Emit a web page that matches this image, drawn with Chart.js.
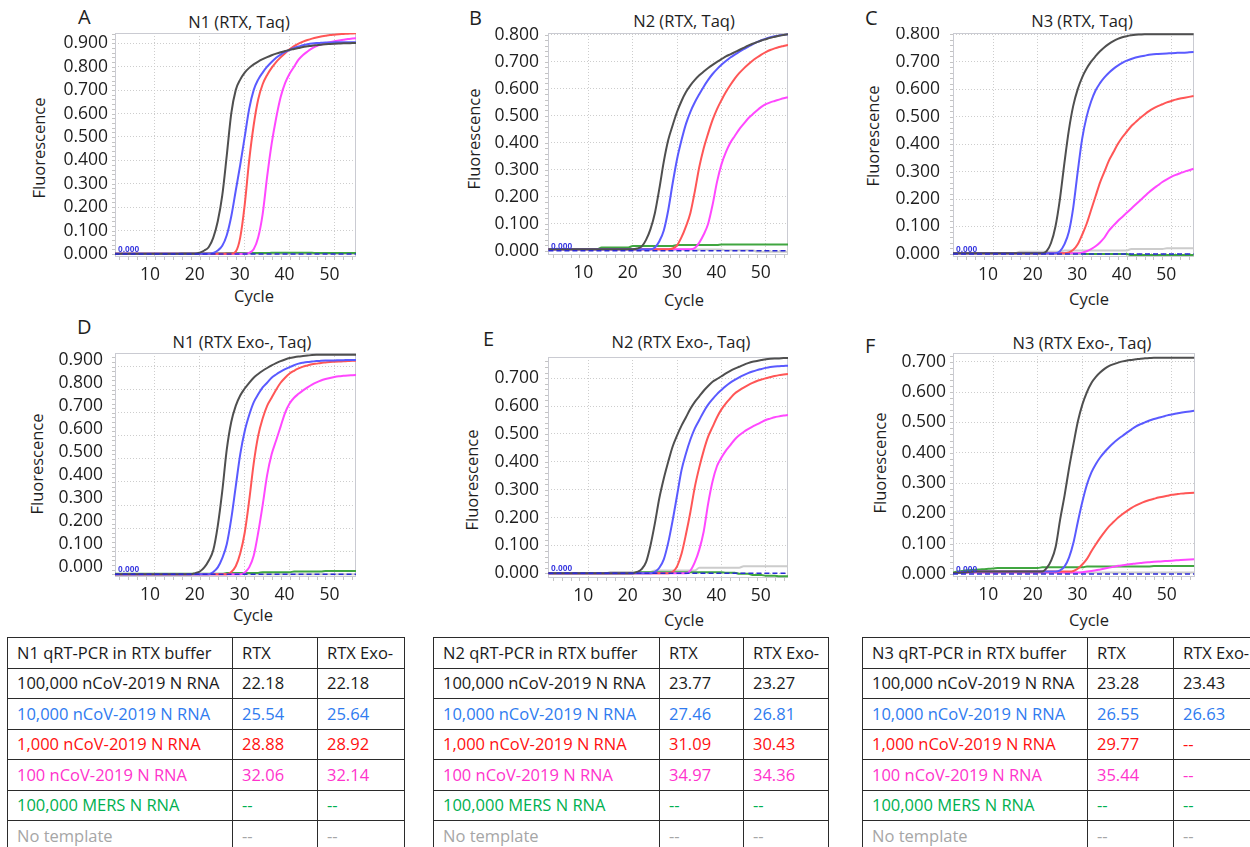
<!DOCTYPE html>
<html><head><meta charset="utf-8">
<script src="https://cdn.jsdelivr.net/npm/chart.js@4.4.0/dist/chart.umd.min.js"></script>
<style>
html,body{margin:0;padding:0;background:#fff;}
body{width:1250px;height:847px;overflow:hidden;position:relative;font-family:"Open Sans",sans-serif;color:#1e1e1e;}
.box{position:absolute;}
.lt{position:absolute;font-size:20px;line-height:20px;}
.ttl{position:absolute;width:240px;text-align:center;font-size:16.5px;line-height:16px;white-space:nowrap;}
.yt{position:absolute;width:200px;height:20px;line-height:20px;text-align:center;font-size:16.5px;transform:rotate(-90deg);white-space:nowrap;}
.xt{position:absolute;width:100px;text-align:center;font-size:16.5px;line-height:16px;}
table{position:absolute;border-collapse:collapse;table-layout:fixed;font-size:16.5px;}
td{border:1px solid #2b2b2b;height:30.5px;box-sizing:border-box;padding:0 0 0 9px;white-space:nowrap;overflow:hidden;line-height:20px;}
</style></head>
<body>
<div class="lt" style="left:78px;top:6.5px">A</div>
<div class="lt" style="left:469px;top:7.5px">B</div>
<div class="lt" style="left:865px;top:7.5px">C</div>
<div class="lt" style="left:77px;top:316.5px">D</div>
<div class="lt" style="left:483px;top:328.5px">E</div>
<div class="lt" style="left:865px;top:335.5px">F</div>

<div class="ttl" style="left:119px;top:14px">N1 (RTX, Taq)</div>
<div class="ttl" style="left:564px;top:13px">N2 (RTX, Taq)</div>
<div class="ttl" style="left:962px;top:13px">N3 (RTX, Taq)</div>
<div class="ttl" style="left:122px;top:334px">N1 (RTX Exo-, Taq)</div>
<div class="ttl" style="left:561px;top:334px">N2 (RTX Exo-, Taq)</div>
<div class="ttl" style="left:962px;top:335px">N3 (RTX Exo-, Taq)</div>

<div class="yt" style="left:-61.5px;top:138px">Fluorescence</div>
<div class="yt" style="left:373.5px;top:129px">Fluorescence</div>
<div class="yt" style="left:773px;top:125.5px">Fluorescence</div>
<div class="yt" style="left:-63px;top:454px">Fluorescence</div>
<div class="yt" style="left:371.5px;top:469.5px">Fluorescence</div>
<div class="yt" style="left:779.5px;top:453px">Fluorescence</div>

<div class="xt" style="left:204px;top:288px">Cycle</div>
<div class="xt" style="left:634px;top:291.5px">Cycle</div>
<div class="xt" style="left:1039px;top:291px">Cycle</div>
<div class="xt" style="left:203px;top:607px">Cycle</div>
<div class="xt" style="left:634px;top:612px">Cycle</div>
<div class="xt" style="left:1039px;top:612px">Cycle</div>

<div class="box" style="left:35px;top:27px;width:327px;height:262px"><canvas id="cA"></canvas></div>
<div class="box" style="left:468px;top:27px;width:326px;height:260px"><canvas id="cB"></canvas></div>
<div class="box" style="left:873px;top:27px;width:327px;height:262px"><canvas id="cC"></canvas></div>
<div class="box" style="left:35px;top:347px;width:327px;height:262px"><canvas id="cD"></canvas></div>
<div class="box" style="left:468px;top:351px;width:326px;height:259px"><canvas id="cE"></canvas></div>
<div class="box" style="left:873px;top:347px;width:328px;height:262px"><canvas id="cF"></canvas></div>

<table id="t1" style="left:7px;top:637px;width:397px"><colgroup><col style="width:225px"><col style="width:85px"><col style="width:87px"></colgroup><tbody></tbody></table>
<table id="t2" style="left:433px;top:637px;width:395px"><colgroup><col style="width:226px"><col style="width:84px"><col style="width:85px"></colgroup><tbody></tbody></table>
<table id="t3" style="left:862px;top:637px;width:398px"><colgroup><col style="width:225px"><col style="width:86px"><col style="width:87px"></colgroup><tbody></tbody></table>

<script>
// ---------- DATA ----------
const cycles = [1,2,3,4,5,6,7,8,9,10,11,12,13,14,15,16,17,18,19,20,21,22,23,24,25,26,27,28,29,30,
 31,32,33,34,35,36,37,38,39,40,41,42,43,44,45,46,47,48,49,50,51,52,53,54,55];
const xTicks = [10,20,30,40,50];
const xTickLabels = ['10','20','30','40','50'];
const yTicks09 = [0,0.1,0.2,0.3,0.4,0.5,0.6,0.7,0.8,0.9];
const yTickLabels09 = ['0.000','0.100','0.200','0.300','0.400','0.500','0.600','0.700','0.800','0.900'];
const yTicks08 = [0,0.1,0.2,0.3,0.4,0.5,0.6,0.7,0.8];
const yTickLabels08 = ['0.000','0.100','0.200','0.300','0.400','0.500','0.600','0.700','0.800'];
const yTicks07 = [0,0.1,0.2,0.3,0.4,0.5,0.6,0.7];
const yTickLabels07 = ['0.000','0.100','0.200','0.300','0.400','0.500','0.600','0.700'];
const yMinorStep = 0.02;
const xMinorStep = 2;
const thresholdValue = 0.000;
const seriesNames = ['100,000 nCoV-2019 N RNA','10,000 nCoV-2019 N RNA','1,000 nCoV-2019 N RNA','100 nCoV-2019 N RNA','100,000 MERS N RNA','No template'];

// Panel A: N1 (RTX, Taq)
const A_black = [0.001,0.001,0.001,0.001,0.001,0.001,0.001,0.001,0.001,0.001,
 0.001,0.001,0.001,0.001,0.001,0.001,0.001,0.001,0.001,0.006,
 0.015,0.03,0.07,0.14,0.25,0.42,0.60,0.70,0.745,0.775,
 0.795,0.81,0.822,0.832,0.841,0.849,0.856,0.862,0.867,0.872,
 0.876,0.88,0.884,0.887,0.89,0.892,0.894,0.896,0.897,0.898,
 0.899,0.9,0.9,0.901,0.901];
const A_blue = [0.001,0.001,0.001,0.001,0.001,0.001,0.001,0.001,0.001,0.001,
 0.001,0.001,0.001,0.001,0.001,0.001,0.001,0.001,0.001,0.001,
 0.001,0.001,0.005,0.015,0.035,0.08,0.16,0.27,0.38,0.50,
 0.62,0.70,0.745,0.775,0.80,0.82,0.838,0.852,0.863,0.872,
 0.88,0.886,0.892,0.896,0.899,0.901,0.902,0.903,0.903,0.904,
 0.904,0.905,0.905,0.905,0.905];
const A_red = [0.001,0.001,0.001,0.001,0.001,0.001,0.001,0.001,0.001,0.001,
 0.001,0.001,0.001,0.001,0.001,0.001,0.001,0.001,0.001,0.001,
 0.001,0.001,0.001,0.001,0.001,0.001,0.001,0.01,0.07,0.21,
 0.40,0.55,0.66,0.725,0.765,0.795,0.82,0.84,0.858,0.874,
 0.888,0.899,0.907,0.914,0.92,0.925,0.929,0.932,0.935,0.937,
 0.939,0.94,0.941,0.942,0.943];
const A_magenta = [0.001,0.001,0.001,0.001,0.001,0.001,0.001,0.001,0.001,0.001,
 0.001,0.001,0.001,0.001,0.001,0.001,0.001,0.001,0.001,0.001,
 0.001,0.001,0.001,0.001,0.001,0.001,0.001,0.001,0.001,0.001,
 0.005,0.02,0.07,0.17,0.33,0.47,0.58,0.67,0.73,0.77,
 0.80,0.83,0.85,0.865,0.878,0.888,0.895,0.90,0.905,0.909,
 0.912,0.915,0.918,0.92,0.922];
const A_green = [0.001,0.001,0.001,0.001,0.001,0.001,0.001,0.001,0.001,0.001,
 0.001,0.001,0.001,0.001,0.001,0.003,0.003,0.003,0.003,0.003,
 0.003,0.003,0.003,0.003,0.003,0.004,0.004,0.004,0.004,0.004,
 0.004,0.004,0.004,0.004,0.004,0.005,0.005,0.005,0.005,0.005,
 0.005,0.005,0.005,0.005,0.005,0.004,0.004,0.004,0.004,0.004,
 0.004,0.004,0.004,0.004,0.004];
const A_gray = [0,0,0,0,0,0,0,0,0,0, 0,0,0,0,0,0,0,0,0,0, 0,0,0,0,0,0,0,0,0,0,
 0,0,0,0,0,0,0,0,0,0, 0,0,0,0,0,0,0,0,0,0, 0,0,0,0,0];

// Panel B: N2 (RTX, Taq)
const B_black = [0.005,0.005,0.005,0.005,0.005,0.005,0.005,0.005,0.005,0.005,
 0.005,0.005,0.005,0.005,0.005,0.005,0.005,0.005,0.005,0.005,
 0.008,0.015,0.04,0.08,0.14,0.23,0.33,0.41,0.465,0.515,
 0.555,0.588,0.613,0.633,0.65,0.664,0.677,0.689,0.70,0.71,
 0.72,0.728,0.736,0.744,0.752,0.76,0.767,0.773,0.779,0.784,
 0.789,0.793,0.797,0.80,0.802];
const B_blue = [0.005,0.005,0.005,0.005,0.005,0.005,0.005,0.005,0.005,0.005,
 0.005,0.005,0.005,0.005,0.005,0.005,0.005,0.005,0.005,0.005,
 0.005,0.005,0.005,0.005,0.012,0.035,0.075,0.15,0.25,0.34,
 0.41,0.47,0.515,0.55,0.58,0.608,0.633,0.655,0.673,0.689,
 0.703,0.716,0.727,0.737,0.747,0.756,0.765,0.773,0.78,0.786,
 0.791,0.795,0.798,0.80,0.802];
const B_red = [0.005,0.005,0.005,0.005,0.005,0.005,0.005,0.005,0.005,0.005,
 0.005,0.005,0.005,0.005,0.005,0.005,0.005,0.005,0.005,0.005,
 0.005,0.005,0.005,0.005,0.005,0.005,0.005,0.005,0.008,0.02,
 0.05,0.09,0.14,0.22,0.31,0.38,0.435,0.485,0.525,0.558,
 0.588,0.614,0.638,0.658,0.675,0.69,0.704,0.716,0.727,0.736,
 0.744,0.75,0.755,0.759,0.763];
const B_magenta = [0.005,0.005,0.005,0.005,0.005,0.005,0.005,0.005,0.005,0.005,
 0.005,0.005,0.005,0.005,0.005,0.005,0.005,0.005,0.005,0.005,
 0.005,0.005,0.005,0.005,0.005,0.005,0.005,0.005,0.005,0.005,
 0.005,0.005,0.005,0.01,0.03,0.06,0.10,0.17,0.255,0.32,
 0.365,0.40,0.425,0.45,0.47,0.49,0.505,0.52,0.533,0.543,
 0.55,0.555,0.56,0.565,0.569];
const B_green = [0.005,0.005,0.005,0.005,0.005,0.005,0.005,0.005,0.005,0.005,
 0.005,0.005,0.012,0.012,0.012,0.012,0.012,0.012,0.012,0.017,
 0.017,0.017,0.017,0.017,0.017,0.017,0.017,0.017,0.017,0.021,
 0.021,0.021,0.021,0.021,0.021,0.021,0.021,0.021,0.021,0.023,
 0.023,0.023,0.023,0.023,0.023,0.023,0.023,0.023,0.023,0.023,
 0.023,0.023,0.023,0.023,0.023];
const B_gray = [0.004,0.004,0.004,0.004,0.004,0.004,0.004,0.004,0.004,0.004,
 0.004,0.004,0.004,0.004,0.004,0.004,0.004,0.004,0.004,0.004,
 0.004,0.004,0.004,0.004,0.004,0.004,0.004,0.004,0.004,0.004,
 0.004,0.004,0.004,0.004,0.004,0.004,0.004,0.004,0.004,0.004,
 0.002,0.002,0.002,0.002,0.002,0.002,0.002,-0.004,-0.004,-0.004,
 -0.004,-0.004,-0.004,-0.004,-0.004];

// Panel C: N3 (RTX, Taq)
const C_black = [0.003,0.003,0.003,0.003,0.003,0.003,0.003,0.003,0.003,0.003,
 0.003,0.003,0.003,0.003,0.003,0.003,0.003,0.003,0.003,0.003,
 0.003,0.01,0.04,0.10,0.20,0.33,0.45,0.54,0.60,0.643,
 0.675,0.70,0.72,0.738,0.753,0.765,0.775,0.783,0.789,0.793,
 0.796,0.798,0.799,0.80,0.80,0.80,0.80,0.80,0.80,0.80,
 0.80,0.80,0.80,0.80,0.80];
const C_blue = [0.003,0.003,0.003,0.003,0.003,0.003,0.003,0.003,0.003,0.003,
 0.003,0.003,0.003,0.003,0.003,0.003,0.003,0.003,0.003,0.003,
 0.003,0.003,0.003,0.003,0.01,0.035,0.08,0.17,0.30,0.42,
 0.50,0.555,0.595,0.622,0.643,0.66,0.674,0.686,0.696,0.704,
 0.71,0.715,0.719,0.722,0.725,0.727,0.728,0.729,0.73,0.731,
 0.732,0.733,0.733,0.734,0.735];
const C_red = [0.003,0.003,0.003,0.003,0.003,0.003,0.003,0.003,0.003,0.003,
 0.003,0.003,0.003,0.003,0.003,0.003,0.003,0.003,0.003,0.003,
 0.003,0.003,0.003,0.003,0.003,0.003,0.006,0.015,0.035,0.07,
 0.11,0.16,0.21,0.26,0.30,0.34,0.37,0.40,0.425,0.445,
 0.465,0.48,0.495,0.508,0.52,0.53,0.538,0.545,0.552,0.557,
 0.562,0.566,0.569,0.572,0.575];
const C_magenta = [0.003,0.003,0.003,0.003,0.003,0.003,0.003,0.003,0.003,0.003,
 0.003,0.003,0.003,0.003,0.003,0.003,0.003,0.003,0.003,0.003,
 0.003,0.003,0.003,0.003,0.003,0.003,0.003,0.003,0.003,0.005,
 0.01,0.018,0.028,0.042,0.06,0.085,0.103,0.12,0.135,0.15,
 0.165,0.18,0.195,0.21,0.225,0.238,0.25,0.262,0.272,0.281,
 0.288,0.294,0.30,0.305,0.31];
const C_green = [0.002,0.002,0.002,0.002,0.002,0.002,0.002,0.002,0.002,0.002,
 0.002,0.002,0.002,0.002,0.002,0.002,0.002,0.002,0.002,0.002,
 0.002,0.002,0.002,0.002,0.002,0.002,0.002,0.002,0.002,0.002,
 0,0,0,0,0,0,0,0,0,0,
 -0.004,-0.004,-0.004,-0.004,-0.004,-0.004,-0.004,-0.004,-0.004,-0.004,
 -0.004,-0.004,-0.004,-0.004,-0.004];
const C_gray = [0.003,0.003,0.003,0.003,0.003,0.003,0.003,0.003,0.003,0.003,
 0.003,0.003,0.003,0.003,0.003,0.008,0.008,0.008,0.008,0.008,
 0.008,0.008,0.008,0.008,0.008,0.013,0.013,0.013,0.013,0.013,
 0.013,0.013,0.013,0.013,0.013,0.013,0.013,0.013,0.013,0.013,
 0.018,0.018,0.018,0.018,0.018,0.018,0.018,0.018,0.021,0.021,
 0.021,0.021,0.021,0.021,0.021];

// Panel D: N1 (RTX Exo-, Taq)
const D_black = [0,0,0,0,0,0,0,0,0,0,
 0,0,0,0,0,0,0,0,0.005,0.012,
 0.03,0.06,0.105,0.21,0.36,0.54,0.66,0.73,0.775,0.805,
 0.83,0.852,0.868,0.882,0.894,0.905,0.915,0.924,0.931,0.937,
 0.941,0.944,0.946,0.948,0.95,0.951,0.951,0.951,0.951,0.951,
 0.951,0.951,0.951,0.951,0.951];
const D_blue = [0,0,0,0,0,0,0,0,0,0,
 0,0,0,0,0,0,0,0,0,0,
 0,0,0.01,0.03,0.07,0.13,0.24,0.38,0.52,0.62,
 0.69,0.745,0.78,0.81,0.83,0.852,0.866,0.878,0.889,0.898,
 0.906,0.913,0.917,0.92,0.922,0.924,0.925,0.926,0.927,0.927,
 0.928,0.928,0.929,0.929,0.929];
const D_red = [0,0,0,0,0,0,0,0,0,0,
 0,0,0,0,0,0,0,0,0,0,
 0,0,0,0,0,0,0.01,0.035,0.09,0.18,
 0.32,0.48,0.60,0.675,0.73,0.765,0.80,0.83,0.852,0.87,
 0.882,0.892,0.90,0.905,0.91,0.913,0.916,0.918,0.92,0.921,
 0.922,0.923,0.924,0.925,0.925];
const D_magenta = [0,0,0,0,0,0,0,0,0,0,
 0,0,0,0,0,0,0,0,0,0,
 0,0,0,0,0,0,0,0,0,0.008,
 0.03,0.08,0.18,0.30,0.43,0.52,0.58,0.64,0.70,0.74,
 0.765,0.782,0.797,0.81,0.822,0.832,0.84,0.846,0.851,0.855,
 0.858,0.86,0.862,0.863,0.864];
const D_green = [0.002,0.002,0.002,0.002,0.002,0.002,0.002,0.002,0.002,0.002,
 0.002,0.002,0.002,0.002,0.002,0.002,0.002,0.002,0.002,0.002,
 0.002,0.002,0.002,0.002,0.002,0.006,0.006,0.006,0.006,0.006,
 0.006,0.006,0.006,0.009,0.009,0.009,0.009,0.009,0.009,0.009,
 0.012,0.012,0.012,0.012,0.012,0.012,0.012,0.014,0.014,0.014,
 0.014,0.014,0.014,0.014,0.014];
const D_gray = [0,0,0,0,0,0,0,0,0,0, 0,0,0,0,0,0,0,0,0,0, 0,0,0,0,0,0,0,0,0,0,
 0,0,0,0,0,0,0,0,0,0, 0,0,0,0,0,0,0,0,0,0, 0,0,0,0,0];

// Panel E: N2 (RTX Exo-, Taq)
const E_black = [0,0,0,0,0,0,0,0,0,0,
 0,0,0,0,0,0,0,0,0,0,
 0.005,0.015,0.04,0.10,0.18,0.27,0.34,0.40,0.455,0.495,
 0.53,0.56,0.59,0.615,0.635,0.655,0.672,0.687,0.697,0.707,
 0.717,0.726,0.734,0.741,0.748,0.754,0.759,0.762,0.765,0.768,
 0.77,0.771,0.771,0.772,0.772];
const E_blue = [0,0,0,0,0,0,0,0,0,0,
 0,0,0,0,0,0,0,0,0,0,
 0,0,0,0,0.005,0.02,0.05,0.11,0.19,0.28,
 0.37,0.43,0.48,0.52,0.55,0.58,0.605,0.625,0.643,0.658,
 0.672,0.684,0.694,0.703,0.711,0.718,0.724,0.729,0.733,0.737,
 0.74,0.742,0.743,0.744,0.745];
const E_red = [0,0,0,0,0,0,0,0,0,0,
 0,0,0,0,0,0,0,0,0,0,
 0,0,0,0,0,0,0,0,0.005,0.025,
 0.07,0.14,0.22,0.31,0.38,0.44,0.49,0.525,0.56,0.588,
 0.61,0.628,0.645,0.656,0.666,0.675,0.683,0.69,0.695,0.70,
 0.704,0.708,0.711,0.713,0.715];
const E_magenta = [0,0,0,0,0,0,0,0,0,0,
 0,0,0,0,0,0,0,0,0,0,
 0,0,0,0,0,0,0,0,0,0,
 0,0,0.01,0.04,0.085,0.15,0.25,0.33,0.385,0.415,
 0.44,0.46,0.48,0.495,0.507,0.517,0.526,0.534,0.542,0.55,
 0.555,0.56,0.563,0.566,0.568];
const E_green = [0,0,0,0,0,0,0,0,0,0,
 0,0,0,0,0,0,0,0,0,0,
 0.004,0.004,0.004,0.004,0.004,0.004,0.004,0.004,0.004,0.004,
 0.004,0.004,0.004,0.004,0.004,0.004,0.004,0.004,0.004,0.004,
 0.002,0.002,0.002,-0.002,-0.002,-0.002,-0.006,-0.006,-0.006,-0.009,
 -0.009,-0.009,-0.011,-0.011,-0.011];
const E_gray = [0,0,0,0,0,0,0,0,0,0,
 0,0,0,0,0.005,0.005,0.005,0.005,0.005,0.005,
 0.005,0.005,0.005,0.005,0.01,0.01,0.01,0.01,0.01,0.01,
 0.01,0.01,0.01,0.01,0.02,0.02,0.02,0.02,0.02,0.02,
 0.02,0.02,0.02,0.02,0.025,0.025,0.025,0.025,0.025,0.025,
 0.025,0.025,0.025,0.025,0.025];

// Panel F: N3 (RTX Exo-, Taq)
const F_black = [0.003,0.004,0.005,0.006,0.007,0.008,0.008,0.008,0.008,0.008,
 0.008,0.008,0.008,0.008,0.008,0.008,0.008,0.008,0.008,0.008,
 0.008,0.02,0.045,0.09,0.18,0.26,0.35,0.43,0.505,0.56,
 0.60,0.63,0.65,0.665,0.677,0.686,0.692,0.697,0.701,0.704,
 0.706,0.708,0.71,0.711,0.712,0.713,0.713,0.713,0.713,0.713,
 0.713,0.713,0.713,0.713,0.713];
const F_blue = [0.003,0.004,0.005,0.006,0.007,0.008,0.008,0.008,0.008,0.008,
 0.008,0.008,0.008,0.008,0.008,0.008,0.008,0.008,0.008,0.008,
 0.008,0.008,0.008,0.008,0.012,0.025,0.055,0.105,0.175,0.24,
 0.295,0.335,0.363,0.385,0.403,0.419,0.433,0.445,0.456,0.467,
 0.477,0.487,0.494,0.50,0.506,0.511,0.515,0.519,0.523,0.526,
 0.529,0.532,0.534,0.536,0.538];
const F_red = [0.003,0.004,0.005,0.006,0.007,0.008,0.008,0.008,0.008,0.008,
 0.008,0.008,0.008,0.008,0.008,0.008,0.008,0.008,0.008,0.008,
 0.008,0.008,0.008,0.008,0.008,0.008,0.008,0.01,0.018,0.032,
 0.05,0.075,0.098,0.12,0.14,0.158,0.172,0.186,0.198,0.208,
 0.218,0.226,0.233,0.239,0.244,0.248,0.252,0.255,0.258,0.261,
 0.263,0.265,0.266,0.267,0.268];
const F_magenta = [0.003,0.004,0.005,0.005,0.005,0.005,0.005,0.005,0.005,0.005,
 0.005,0.005,0.005,0.005,0.005,0.005,0.005,0.005,0.005,0.005,
 0.005,0.005,0.005,0.005,0.005,0.005,0.005,0.005,0.005,0.006,
 0.008,0.01,0.012,0.015,0.018,0.021,0.024,0.027,0.029,0.031,
 0.033,0.035,0.036,0.038,0.039,0.04,0.041,0.042,0.043,0.044,
 0.045,0.046,0.047,0.048,0.049];
const F_green = [0.005,0.008,0.01,0.012,0.013,0.014,0.015,0.016,0.017,0.018,
 0.02,0.02,0.02,0.02,0.02,0.02,0.02,0.02,0.02,0.02,
 0.022,0.022,0.022,0.022,0.022,0.022,0.022,0.022,0.022,0.022,
 0.025,0.025,0.025,0.025,0.025,0.025,0.025,0.025,0.025,0.025,
 0.025,0.025,0.025,0.025,0.025,0.026,0.026,0.026,0.026,0.026,
 0.026,0.026,0.026,0.026,0.026];
const F_gray = [0.005,0.005,0.005,0.005,0.005,0.005,0.005,0.005,0.005,0.005,
 0.005,0.005,0.005,0.005,0.005,0.005,0.005,0.005,0.005,0.005,
 0.005,0.005,0.005,0.005,0.005,0.005,0.005,0.005,0.005,0.005,
 0.005,0.005,0.005,0.005,0.005,0.005,0.005,0.005,0.005,0.005,
 0.005,0.005,0.005,0.005,0.005,0.005,0.005,0.005,0.005,0.005,
 0.005,0.005,0.005,0.005,0.005];

// Ct tables
const tableHeads = ['N1 qRT-PCR in RTX buffer','N2 qRT-PCR in RTX buffer','N3 qRT-PCR in RTX buffer'];
const colHeads = ['RTX','RTX Exo-'];
const N1_RTX = ['22.18','25.54','28.88','32.06','--','--'];
const N1_EXO = ['22.18','25.64','28.92','32.14','--','--'];
const N2_RTX = ['23.77','27.46','31.09','34.97','--','--'];
const N2_EXO = ['23.27','26.81','30.43','34.36','--','--'];
const N3_RTX = ['23.28','26.55','29.77','35.44','--','--'];
const N3_EXO = ['23.43','26.63','--','--','--','--'];

// ---------- STYLE / LAYOUT ----------
const seriesColors = ['#4f4f4f','#5a5aff','#ff5656','#ff48ff','#40a640','#cccccc'];
const textColors = ['#1a1a1a','#2f7bf0','#ff1010','#ff33cc','#00b050','#a6a6a6'];

const panels = [
  {id:'cA', series:[A_black,A_blue,A_red,A_magenta,A_green,A_gray], yt:yTicks09, yl:yTickLabels09, x:[1.1,54.8], y:[-0.0128,0.944], yPad:7, yOff:0},
  {id:'cB', series:[B_black,B_blue,B_red,B_magenta,B_green,B_gray], yt:yTicks08, yl:yTickLabels08, x:[0.9,55.0], y:[-0.016,0.807], yPad:9, yOff:0},
  {id:'cC', series:[C_black,C_blue,C_red,C_magenta,C_green,C_gray], yt:yTicks08, yl:yTickLabels08, x:[1.0,55.1], y:[-0.011,0.8045], yPad:13, yOff:0},
  {id:'cD', series:[D_black,D_blue,D_red,D_magenta,D_green,D_gray], yt:yTicks09, yl:yTickLabels09, x:[1.1,54.8], y:[-0.0117,0.959], yPad:12, yOff:-7},
  {id:'cE', series:[E_black,E_blue,E_red,E_magenta,E_green,E_gray], yt:yTicks07, yl:yTickLabels07, x:[0.9,55.0], y:[-0.0169,0.776], yPad:9, yOff:0},
  {id:'cF', series:[F_black,F_blue,F_red,F_magenta,F_green,F_gray], yt:yTicks07, yl:yTickLabels07, x:[1.0,55.2], y:[-0.0099,0.7287], yPad:7, yOff:0}
];

const framePlugin = {
  id: 'frame',
  beforeDatasetsDraw(chart) {
    const {ctx, chartArea: a, scales} = chart;
    ctx.save();
    // minor tick marks along the left and bottom edges
    ctx.strokeStyle = '#c4c4c4';
    ctx.lineWidth = 1;
    ctx.beginPath();
    for (let v = 0; v <= scales.y.max; v += yMinorStep) {
      const py = Math.round(scales.y.getPixelForValue(v)) + 0.5;
      ctx.moveTo(a.left - 3, py); ctx.lineTo(a.left, py);
    }
    for (let c = 2; c <= scales.x.max; c += xMinorStep) {
      const px = Math.round(scales.x.getPixelForValue(c)) + 0.5;
      ctx.moveTo(px, a.bottom); ctx.lineTo(px, a.bottom + 3);
    }
    ctx.stroke();
    ctx.strokeStyle = '#cacbd2';
    ctx.strokeRect(Math.round(a.left) + 0.5, Math.round(a.top) + 0.5, Math.round(a.right - a.left) - 1, Math.round(a.bottom - a.top) - 1);
    ctx.restore();
  },
  afterDatasetsDraw(chart) {
    const {ctx, chartArea: a, scales} = chart;
    const yy = scales.y.getPixelForValue(thresholdValue);
    ctx.save();
    ctx.font = 'bold 8.5px "Liberation Sans"';
    ctx.fillStyle = '#3434e0';
    ctx.textBaseline = 'alphabetic';
    ctx.fillText(thresholdValue.toFixed(3), a.left + 3, yy - 2);
    ctx.restore();
  }
};

Chart.defaults.font.family = '"Open Sans"';

panels.forEach(p => {
  const datasets = [{
    label: 'Threshold',
    data: cycles.map(c => ({x: c, y: thresholdValue})),
    borderColor: '#2a2ad6', borderWidth: 1.5, borderDash: [5, 3], pointRadius: 0
  }];
  p.series.forEach((vals, i) => {
    datasets.push({
      label: seriesNames[i],
      data: cycles.map((c, j) => ({x: c, y: vals[j]})),
      borderColor: seriesColors[i], borderWidth: 2, pointRadius: 0,
      cubicInterpolationMode: 'monotone'
    });
  });
  new Chart(document.getElementById(p.id), {
    type: 'line',
    data: {datasets},
    plugins: [framePlugin],
    options: {
      responsive: true, maintainAspectRatio: false, animation: false,
      layout: {padding: {top: 6, right: 6, left: 0, bottom: 0}},
      plugins: {legend: {display: false}, tooltip: {enabled: false}, title: {display: false}},
      scales: {
        x: {
          type: 'linear', min: p.x[0], max: p.x[1],
          afterBuildTicks: ax => { ax.ticks = xTicks.map(v => ({value: v})); },
          afterFit: ax => { ax.height = 32; ax.paddingLeft = 0; ax.paddingRight = 0; ax.paddingTop = 0; ax.paddingBottom = 0; },
          grid: {color: '#cdcdcd', drawTicks: false, lineWidth: 1},
          border: {display: false, dash: [1, 2]},
          ticks: {font: {size: 17.5}, color: '#1e1e1e', padding: 8, labelOffset: -5, maxRotation: 0, autoSkip: false,
                  callback: (v, i) => xTickLabels[i]}
        },
        y: {
          type: 'linear', min: p.y[0], max: p.y[1],
          afterBuildTicks: ax => { ax.ticks = p.yt.map(v => ({value: v})); },
          afterFit: ax => { ax.width = 80; ax.paddingLeft = 0; ax.paddingRight = 0; ax.paddingTop = 0; ax.paddingBottom = 0; },
          grid: {color: '#cdcdcd', drawTicks: false, lineWidth: 1},
          border: {display: false, dash: [1, 2]},
          ticks: {font: {size: 17.5}, color: '#1e1e1e', padding: p.yPad, labelOffset: p.yOff, autoSkip: false,
                  callback: (v, i) => p.yl[i]}
        }
      }
    }
  });
});

// tables
function fillTable(id, head, rtx, exo) {
  const tb = document.querySelector('#' + id + ' tbody');
  const hr = document.createElement('tr');
  [head, colHeads[0], colHeads[1]].forEach(t => {
    const td = document.createElement('td'); td.textContent = t; td.style.color = '#1a1a1a'; hr.appendChild(td);
  });
  tb.appendChild(hr);
  seriesNames.forEach((name, i) => {
    const tr = document.createElement('tr');
    [name, rtx[i], exo[i]].forEach(t => {
      const td = document.createElement('td'); td.textContent = t; td.style.color = textColors[i]; tr.appendChild(td);
    });
    tb.appendChild(tr);
  });
}
fillTable('t1', tableHeads[0], N1_RTX, N1_EXO);
fillTable('t2', tableHeads[1], N2_RTX, N2_EXO);
fillTable('t3', tableHeads[2], N3_RTX, N3_EXO);
</script>
</body></html>
